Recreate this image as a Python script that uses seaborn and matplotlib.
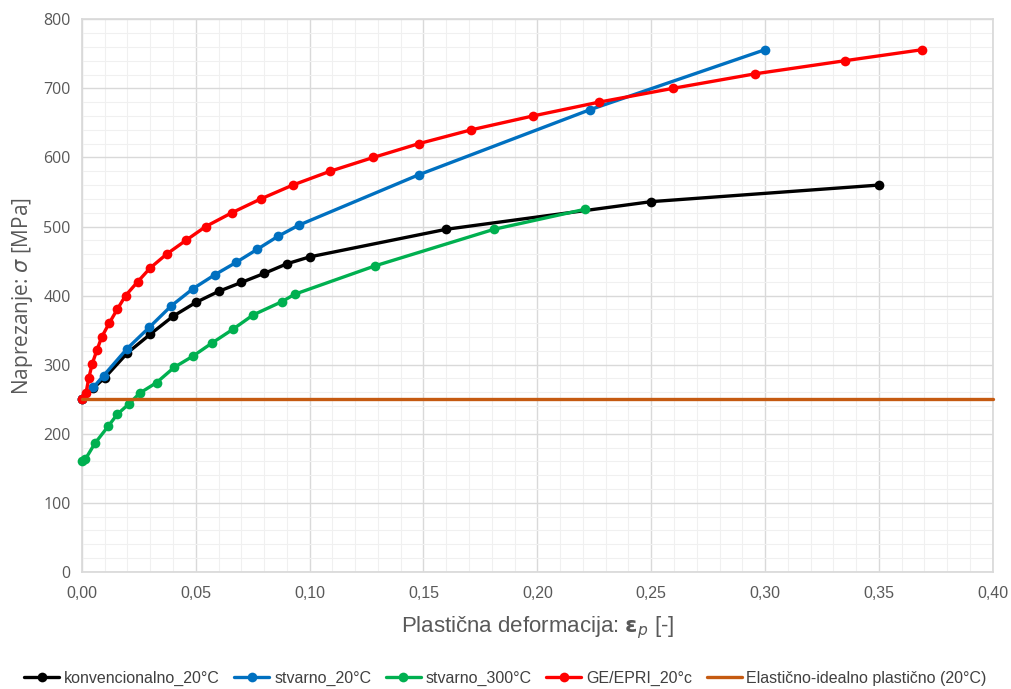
import numpy as np
import pandas as pd
import matplotlib
matplotlib.use('agg')
import seaborn as sns
import matplotlib.pyplot as plt
from matplotlib.ticker import MultipleLocator, FuncFormatter

# data
konv_x = [0, 0.005, 0.01, 0.02, 0.03, 0.04, 0.05, 0.06, 0.07, 0.08, 0.09, 0.10, 0.16, 0.25, 0.35]
konv_y = [250, 266, 281, 317, 344, 370, 390, 406, 419, 432, 446, 456, 496, 536, 560]

stv20_x = [0, 0.005, 0.0095, 0.0198, 0.0296, 0.0392, 0.0488, 0.0583, 0.0677, 0.077, 0.0862, 0.0953, 0.148, 0.223, 0.300]
stv20_y = [250, 267, 284, 323, 354, 385, 410, 430, 448, 467, 486, 502, 575, 669, 756]

stv300_x = [0, 0.0015, 0.0057, 0.0116, 0.0155, 0.0206, 0.0255, 0.0328, 0.0405, 0.0486, 0.057,
            0.0662, 0.0752, 0.0877, 0.0935, 0.1287, 0.181, 0.221]
stv300_y = [160, 163, 186, 211, 228, 243, 259, 274, 296, 312, 331, 351, 372, 391, 402, 443, 496, 525]

ge_x = [0, 0.0018, 0.003, 0.0045, 0.0066, 0.0087, 0.012, 0.0155, 0.0192, 0.0245, 0.030, 0.0372,
        0.0457, 0.0544, 0.0659, 0.0786, 0.0926, 0.109, 0.128, 0.148, 0.171, 0.198, 0.227, 0.2595,
        0.2955, 0.335, 0.369]
ge_y = [250, 259, 280, 301, 321, 340, 360, 380, 400, 420, 440, 460, 480, 500, 520, 540, 560, 580,
        600, 620, 640, 660, 680, 700, 721, 740, 756]

eip_x = [0, 0.40]
eip_y = [250, 250]

series = [
    ("konvencionalno_20°C", konv_x, konv_y, "#000000", "o"),
    ("stvarno_20°C", stv20_x, stv20_y, "#0070C0", "o"),
    ("stvarno_300°C", stv300_x, stv300_y, "#00B050", "o"),
    ("GE/EPRI_20°c", ge_x, ge_y, "#FF0000", "o"),
    ("Elastično-idealno plastično (20°C)", eip_x, eip_y, "#C55A11", None),
]

sns.set_theme(style="white")
plt.rcParams['font.family'] = ['Liberation Sans', 'DejaVu Sans']

fig, ax = plt.subplots(figsize=(10.11, 6.89), dpi=100)
plt.subplots_adjust(left=0.081, right=0.982, top=0.972, bottom=0.170)

for name, xs, ys, col, mk in series:
    df = pd.DataFrame({"x": xs, "y": ys})
    kw = dict(marker=mk, markersize=7, markeredgewidth=0) if mk else {}
    sns.lineplot(data=df, x="x", y="y", ax=ax, color=col, linewidth=2.4,
                 label=name, clip_on=False, zorder=3, **kw)

ax.set_xlim(0, 0.40)
ax.set_ylim(0, 800)
ax.xaxis.set_major_locator(MultipleLocator(0.05))
ax.xaxis.set_minor_locator(MultipleLocator(0.01))
ax.yaxis.set_major_locator(MultipleLocator(100))
ax.yaxis.set_minor_locator(MultipleLocator(20))
ax.grid(which='major', color='#d9d9d9', linewidth=1.0)
ax.grid(which='minor', color='#f0f0f0', linewidth=0.8)
ax.set_axisbelow(True)
for s in ax.spines.values():
    s.set_color('#d9d9d9')
ax.tick_params(which='both', length=0, colors='#595959', labelsize=11.5)
ax.tick_params(axis='x', pad=10)
ax.tick_params(axis='y', pad=8)
ax.xaxis.set_major_formatter(FuncFormatter(lambda v, p: f"{v:.2f}".replace('.', ',')))
for t in ax.get_yticklabels():
    t.set_family(['Open Sans', 'DejaVu Sans'])

ax.set_xlabel("Plastična deformacija: $\\boldsymbol{\\varepsilon}_p$ [-]", fontsize=16, color='#595959', labelpad=10)
ax.set_ylabel("Naprezanje: $\\sigma$ [MPa]", fontsize=15, color='#595959', labelpad=6,
              family=['Open Sans', 'DejaVu Sans'])

ax.get_legend().remove()
h, l = ax.get_legend_handles_labels()
fig.legend(h, l, loc='lower center', ncol=5, frameon=False, bbox_to_anchor=(0.5, -0.016),
           fontsize=11.5, handlelength=2.2, columnspacing=0.9, handletextpad=0.3,
           labelcolor='#404040')

plt.savefig("out.png", dpi=100)
